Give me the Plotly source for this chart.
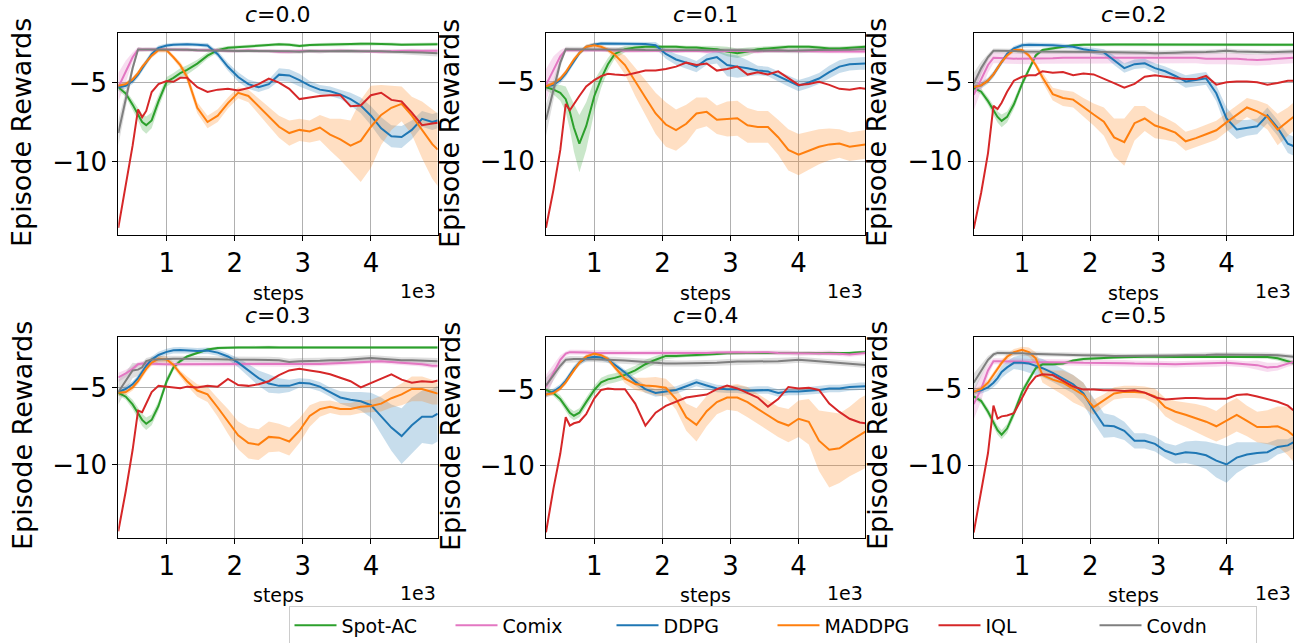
import plotly.graph_objects as go

# x positions, in units of 1e3 steps
steps = [0.29, 0.4, 0.5, 0.58, 0.64, 0.7, 0.78, 0.88, 1.0, 1.1, 1.2, 1.3, 1.45, 1.6, 1.75, 1.9,
         2.05, 2.2, 2.35, 2.5, 2.65, 2.8, 2.95, 3.1, 3.25, 3.4, 3.55, 3.7, 3.85, 4.0, 4.15, 4.3,
         4.45, 4.6, 4.75, 4.9, 4.98]

methods = ["Spot-AC", "Comix", "DDPG", "MADDPG", "IQL", "Covdn"]
panel_titles = ["0.0", "0.1", "0.2", "0.3", "0.4", "0.5"]
x_ticks = [1, 2, 3, 4]
y_ticks = [-5, -10]

# ---------------- c = 0.0 ----------------
c00_spot = [-5.3,-5.7,-6.4,-7.0,-7.5,-7.7,-7.4,-6.2, -4.95,-4.7,-4.4,-4.2,-3.8,-3.3,-2.95,-2.8,
            -2.75,-2.7,-2.68,-2.62,-2.58,-2.6,-2.68,-2.62, -2.6,-2.58,-2.6,-2.58,-2.55,-2.55,-2.55,-2.57,
            -2.6,-2.58,-2.58,-2.57,-2.57]
c00_spot_sd = [0.2,0.2,0.3,0.4,0.5,0.55,0.5,0.4, 0.3,0.3,0.3,0.3,0.25,0.2,0.15,0.12,
               0.1,0.1,0.1,0.1,0.1,0.1,0.1,0.1, 0.1,0.1,0.1,0.1,0.1,0.1,0.1,0.1, 0.1,0.1,0.1,0.1,0.1]
c00_comix = [-5.3,-4.3,-3.4,-2.9,-2.9,-2.9,-2.9,-2.9, -2.88,-2.9,-2.92,-2.92,-2.95,-2.95,-2.95,-3.0,
             -3.0,-2.95,-3.0,-3.0,-3.05,-3.05,-3.0,-3.0, -3.02,-3.0,-2.98,-3.0,-2.98,-3.0,-3.05,-3.02,
             -2.98,-2.98,-3.0,-3.0,-2.98]
c00_comix_sd = [0.9,0.7,0.3,0.15,0.12,0.12,0.12,0.12, 0.12,0.12,0.12,0.12,0.12,0.12,0.12,0.12,
                0.12,0.12,0.12,0.12,0.12,0.12,0.12,0.12, 0.12,0.12,0.12,0.12,0.12,0.12,0.12,0.12, 0.12,0.12,0.12,0.12,0.12]
c00_ddpg = [-5.3,-5.2,-4.9,-4.5,-4.1,-3.7,-3.2,-2.8, -2.65,-2.6,-2.58,-2.58,-2.6,-2.65,-3.2,-4.0,
            -4.65,-5.1,-5.3,-5.1,-4.5,-4.55,-4.85,-5.2, -5.45,-5.55,-5.75,-6.05,-6.45,-7.1,-7.9,-8.4,
            -8.45,-8.0,-7.3,-7.5,-7.4]
c00_ddpg_sd = [0.2,0.2,0.2,0.2,0.2,0.2,0.2,0.15, 0.12,0.12,0.12,0.12,0.12,0.15,0.2,0.25,
               0.3,0.3,0.3,0.3,0.4,0.4,0.4,0.3, 0.3,0.3,0.3,0.4,0.5,0.6,0.7,0.7, 0.7,0.6,0.5,0.5,0.5]
c00_maddpg = [-5.2,-5.1,-4.8,-4.4,-4.0,-3.7,-3.3,-2.95, -2.95,-3.4,-3.9,-4.65,-6.6,-7.5,-7.1,-6.3,
              -5.65,-5.85,-6.5,-7.15,-7.8,-8.2,-8.0,-8.1, -7.85,-8.3,-8.6,-9.0,-8.7,-7.8,-7.05,-6.6,
              -6.35,-7.1,-8.0,-8.9,-9.25]
c00_maddpg_sd = [0.15,0.15,0.15,0.15,0.15,0.15,0.15,0.15, 0.15,0.15,0.2,0.3,0.35,0.4,0.4,0.35,
                 0.35,0.4,0.5,0.6,0.7,0.8,0.7,0.7, 0.8,1.0,1.3,1.6,2.6,2.6,1.9,1.4, 1.1,1.2,1.8,2.2,2.3]
c00_iql = [-14.2,-11.5,-9.0,-6.7,-7.2,-6.8,-5.6,-5.1, -4.9,-4.95,-4.7,-4.7,-5.3,-5.6,-5.45,-5.4,
           -5.5,-5.35,-5.1,-4.75,-5.0,-5.4,-6.05,-5.95, -5.85,-5.8,-5.8,-6.5,-6.45,-5.8,-5.65,-6.1,
           -6.2,-6.9,-7.7,-7.6,-7.55]
c00_covdn = [-8.2,-6.0,-4.1,-2.9,-2.92,-2.9,-2.9,-2.9, -2.9,-2.9,-2.92,-2.92,-2.95,-2.95,-2.95,-2.98,
             -3.0,-3.0,-3.0,-3.0,-3.02,-3.02,-3.05,-3.0, -3.02,-3.0,-3.0,-3.0,-3.02,-3.0,-3.02,-3.05,
             -3.05,-3.08,-3.1,-3.12,-3.15]
c00_covdn_sd = [0.8,0.5,0.3,0.15,0.12,0.12,0.12,0.12, 0.12,0.12,0.12,0.12,0.12,0.12,0.12,0.12,
                0.12,0.12,0.12,0.12,0.12,0.12,0.12,0.12, 0.12,0.12,0.12,0.12,0.12,0.12,0.12,0.12, 0.15,0.15,0.2,0.2,0.2]

# ---------------- c = 0.1 ----------------
c01_spot = [-5.35,-5.5,-5.7,-6.1,-6.9,-7.9,-8.9,-7.8, -5.9,-4.8,-3.9,-3.25,-2.95,-2.85,-2.8,-2.8,
            -2.8,-2.8,-2.85,-2.85,-2.9,-2.95,-3.1,-3.2, -3.1,-2.95,-2.9,-2.85,-2.8,-2.8,-2.8,-2.85,
            -2.9,-2.9,-2.85,-2.8,-2.8]
c01_spot_sd = [0.2,0.3,0.5,0.8,1.1,1.5,1.8,1.5, 1.0,0.6,0.4,0.3,0.2,0.12,0.12,0.12,
               0.12,0.12,0.12,0.12,0.15,0.2,0.3,0.3, 0.25,0.15,0.12,0.12,0.12,0.12,0.12,0.12, 0.12,0.12,0.12,0.12,0.12]
c01_comix = [-5.2,-4.2,-3.4,-3.0,-3.0,-3.0,-3.02,-3.02, -3.0,-3.0,-3.02,-3.02,-3.05,-3.05,-3.05,-3.02,
             -3.05,-3.08,-3.05,-3.05,-3.1,-3.08,-3.05,-3.05, -3.08,-3.1,-3.05,-3.05,-3.08,-3.05,-3.05,-3.08,
             -3.1,-3.08,-3.1,-3.1,-3.1]
c01_comix_sd = [1.0,0.8,0.4,0.15,0.12,0.12,0.12,0.12, 0.12,0.12,0.12,0.12,0.12,0.12,0.12,0.12,
                0.12,0.12,0.12,0.12,0.12,0.12,0.12,0.12, 0.12,0.12,0.12,0.12,0.12,0.12,0.12,0.12, 0.12,0.12,0.12,0.12,0.12]
c01_ddpg = [-5.3,-5.2,-4.9,-4.5,-4.1,-3.7,-3.2,-2.8, -2.65,-2.6,-2.6,-2.62,-2.62,-2.62,-2.62,-2.7,
            -3.25,-3.6,-3.8,-4.05,-3.6,-3.45,-3.95,-4.05, -4.15,-4.3,-4.35,-4.65,-4.95,-5.25,-5.05,-4.8,
            -4.4,-4.05,-3.9,-3.85,-3.85]
c01_ddpg_sd = [0.2,0.2,0.2,0.2,0.2,0.2,0.15,0.12, 0.12,0.12,0.12,0.12,0.12,0.12,0.15,0.2,
               0.3,0.35,0.35,0.35,0.35,0.4,0.7,0.7, 0.5,0.3,0.3,0.3,0.35,0.35,0.35,0.35, 0.4,0.4,0.4,0.4,0.4]
c01_maddpg = [-5.3,-5.1,-4.8,-4.4,-4.0,-3.6,-3.2,-2.8, -2.7,-2.8,-3.0,-3.3,-3.95,-5.0,-6.0,-7.0,
              -7.7,-8.05,-7.65,-7.0,-6.9,-7.4,-7.35,-7.3, -7.75,-7.85,-7.85,-8.5,-9.3,-9.6,-9.35,-9.1,
              -8.95,-8.9,-9.1,-9.0,-8.95]
c01_maddpg_sd = [0.15,0.15,0.15,0.15,0.15,0.15,0.15,0.15, 0.15,0.15,0.15,0.3,0.6,0.9,1.1,1.3,
                 1.4,1.3,1.2,1.0,0.9,0.9,1.1,1.1, 1.1,1.0,1.0,1.1,1.3,1.3,1.2,1.1, 1.0,0.9,0.9,0.9,0.9]
c01_iql = [-14.2,-11.8,-9.3,-6.4,-6.8,-6.4,-5.9,-5.3, -4.9,-4.65,-4.5,-4.55,-4.6,-4.45,-4.3,-4.3,
           -4.2,-4.05,-3.8,-3.95,-3.85,-4.3,-4.2,-4.05, -4.55,-4.4,-4.55,-4.35,-4.75,-5.2,-5.15,-5.0,
           -5.2,-5.45,-5.5,-5.4,-5.45]
c01_covdn = [-7.4,-5.5,-3.8,-2.95,-2.95,-2.95,-2.95,-2.95, -2.95,-2.95,-2.98,-2.98,-2.98,-2.98,-3.0,-3.0,
             -3.0,-3.02,-3.0,-3.0,-3.02,-3.0,-3.0,-3.02, -3.02,-3.05,-3.02,-3.02,-3.05,-3.05,-3.02,-3.0,
             -3.0,-2.98,-2.98,-2.95,-2.95]
c01_covdn_sd = [1.0,0.6,0.3,0.15,0.15,0.15,0.15,0.15, 0.15,0.15,0.15,0.15,0.15,0.15,0.15,0.15,
                0.15,0.15,0.15,0.15,0.15,0.15,0.15,0.15, 0.15,0.15,0.15,0.15,0.15,0.15,0.15,0.15, 0.15,0.15,0.15,0.15,0.15]

# ---------------- c = 0.2 ----------------
c02_spot = [-5.35,-5.6,-6.2,-6.8,-7.2,-7.45,-7.2,-6.4, -5.1,-4.2,-3.3,-2.95,-2.85,-2.75,-2.65,-2.62,
            -2.6,-2.6,-2.6,-2.6,-2.6,-2.6,-2.62,-2.6, -2.6,-2.6,-2.6,-2.6,-2.6,-2.6,-2.6,-2.62,
            -2.62,-2.62,-2.62,-2.62,-2.62]
c02_spot_sd = [0.15,0.2,0.25,0.3,0.35,0.4,0.35,0.3, 0.25,0.2,0.15,0.1,0.1,0.1,0.1,0.1,
               0.1,0.1,0.1,0.1,0.1,0.1,0.1,0.1, 0.1,0.1,0.1,0.1,0.1,0.1,0.1,0.1, 0.1,0.1,0.1,0.1,0.1]
c02_comix = [-5.8,-4.8,-3.9,-3.45,-3.45,-3.45,-3.48,-3.5, -3.5,-3.5,-3.5,-3.48,-3.48,-3.45,-3.45,-3.45,
             -3.45,-3.45,-3.48,-3.45,-3.45,-3.45,-3.45,-3.48, -3.48,-3.45,-3.45,-3.5,-3.5,-3.5,-3.5,-3.55,
             -3.58,-3.55,-3.5,-3.48,-3.45]
c02_comix_sd = [1.0,0.8,0.5,0.35,0.35,0.35,0.35,0.35, 0.35,0.35,0.35,0.35,0.35,0.35,0.35,0.35,
                0.35,0.35,0.35,0.35,0.35,0.35,0.35,0.35, 0.35,0.35,0.35,0.35,0.35,0.35,0.35,0.35, 0.35,0.35,0.35,0.35,0.35]
c02_ddpg = [-5.3,-5.2,-4.9,-4.5,-4.1,-3.7,-3.2,-2.85, -2.65,-2.62,-2.62,-2.62,-2.65,-2.7,-2.75,-2.9,
            -3.0,-3.1,-3.6,-4.1,-3.85,-3.8,-4.1,-4.3, -4.6,-4.95,-4.85,-4.75,-5.7,-7.3,-8.0,-7.9,
            -7.8,-7.1,-7.9,-8.9,-9.05]
c02_ddpg_sd = [0.2,0.2,0.2,0.2,0.2,0.2,0.15,0.15, 0.15,0.15,0.15,0.15,0.15,0.15,0.15,0.15,
               0.2,0.2,0.3,0.3,0.3,0.3,0.3,0.3, 0.35,0.4,0.4,0.4,0.5,0.7,0.6,0.5, 0.5,0.5,0.5,0.6,0.6]
c02_maddpg = [-5.3,-5.2,-4.9,-4.5,-4.1,-3.7,-3.3,-2.95, -2.95,-3.3,-3.9,-4.7,-5.75,-6.0,-6.1,-6.6,
              -7.05,-7.5,-8.5,-8.8,-7.6,-7.3,-7.75,-7.95, -8.2,-8.75,-8.55,-8.3,-8.05,-7.55,-7.05,-6.6,
              -6.85,-7.2,-8.0,-7.5,-7.2]
c02_maddpg_sd = [0.15,0.15,0.15,0.15,0.15,0.15,0.15,0.15, 0.15,0.15,0.15,0.3,0.4,0.5,0.5,0.6,
                 0.7,0.9,1.2,1.5,1.1,0.8,0.8,0.7, 0.6,0.6,0.6,0.6,0.6,0.6,0.6,0.6, 0.7,0.8,1.0,0.9,0.9]
c02_iql = [-14.3,-12.0,-9.5,-6.5,-6.7,-6.3,-5.6,-4.9, -4.65,-4.55,-4.55,-4.3,-4.4,-4.35,-4.55,-4.45,
           -4.5,-4.75,-5.05,-5.35,-5.1,-4.65,-4.55,-4.65, -4.75,-4.8,-4.8,-4.6,-5.15,-5.0,-4.95,-4.95,
           -5.0,-5.15,-5.05,-4.9,-4.9]
c02_covdn = [-5.1,-4.1,-3.4,-3.0,-3.0,-3.0,-3.02,-3.02, -3.05,-3.05,-3.05,-3.05,-3.05,-3.08,-3.05,-3.05,
             -3.05,-3.08,-3.1,-3.1,-3.12,-3.12,-3.15,-3.15, -3.12,-3.1,-3.1,-3.08,-3.05,-3.0,-3.05,-3.08,
             -3.1,-3.1,-3.08,-3.05,-3.05]
c02_covdn_sd = [0.7,0.4,0.2,0.15,0.15,0.15,0.15,0.15, 0.15,0.15,0.15,0.15,0.15,0.15,0.15,0.15,
                0.15,0.15,0.15,0.15,0.15,0.15,0.15,0.15, 0.15,0.15,0.15,0.15,0.15,0.15,0.15,0.15, 0.15,0.15,0.15,0.15,0.15]

# ---------------- c = 0.3 ----------------
c03_spot = [-5.35,-5.6,-6.1,-6.7,-7.1,-7.35,-7.1,-6.2, -4.6,-3.7,-3.3,-3.0,-2.75,-2.55,-2.45,-2.42,
            -2.42,-2.42,-2.4,-2.4,-2.42,-2.42,-2.45,-2.45, -2.45,-2.45,-2.42,-2.42,-2.42,-2.42,-2.42,-2.42,
            -2.42,-2.42,-2.42,-2.42,-2.42]
c03_spot_sd = [0.15,0.2,0.3,0.35,0.4,0.4,0.35,0.3, 0.25,0.2,0.15,0.1,0.1,0.1,0.1,0.1,
               0.1,0.1,0.1,0.1,0.1,0.1,0.1,0.1, 0.1,0.1,0.1,0.1,0.1,0.1,0.1,0.1, 0.1,0.1,0.1,0.1,0.1]
c03_comix = [-4.35,-4.1,-3.8,-3.5,-3.45,-3.45,-3.45,-3.48, -3.5,-3.5,-3.5,-3.5,-3.5,-3.5,-3.48,-3.48,
             -3.5,-3.5,-3.5,-3.5,-3.5,-3.52,-3.52,-3.5, -3.48,-3.45,-3.42,-3.4,-3.35,-3.3,-3.3,-3.35,
             -3.38,-3.45,-3.5,-3.6,-3.6]
c03_comix_sd = [0.3,0.25,0.2,0.15,0.15,0.15,0.15,0.15, 0.15,0.15,0.15,0.15,0.15,0.15,0.15,0.15,
                0.15,0.15,0.15,0.15,0.15,0.15,0.15,0.15, 0.15,0.15,0.15,0.15,0.15,0.15,0.15,0.15, 0.15,0.15,0.15,0.15,0.15]
c03_ddpg = [-5.3,-5.1,-4.8,-4.4,-4.0,-3.6,-3.2,-2.9, -2.7,-2.6,-2.58,-2.6,-2.65,-2.62,-2.75,-3.0,
            -3.4,-3.9,-4.4,-4.75,-4.9,-4.9,-4.7,-4.75, -4.95,-5.3,-5.65,-5.8,-5.9,-6.15,-6.85,-7.6,
            -8.15,-7.45,-6.9,-6.9,-6.7]
c03_ddpg_sd = [0.2,0.2,0.2,0.2,0.2,0.2,0.2,0.2, 0.2,0.2,0.2,0.2,0.2,0.2,0.2,0.2,
               0.3,0.4,0.5,0.6,0.5,0.4,0.3,0.3, 0.3,0.3,0.4,0.5,0.6,0.8,1.2,1.5, 1.8,1.8,1.7,1.8,1.8]
c03_maddpg = [-5.35,-5.3,-5.0,-4.6,-4.2,-3.8,-3.4,-3.15, -3.2,-3.55,-4.1,-4.6,-5.2,-5.45,-6.3,-7.2,
              -8.1,-8.6,-8.7,-8.2,-8.25,-8.5,-7.8,-6.85, -6.4,-6.25,-6.4,-6.4,-6.25,-6.2,-6.05,-5.7,
              -5.45,-5.1,-5.1,-5.3,-5.4]
c03_maddpg_sd = [0.2,0.2,0.2,0.2,0.2,0.2,0.2,0.2, 0.2,0.2,0.2,0.3,0.4,0.5,0.6,0.8,
                 0.9,1.0,1.0,1.0,0.9,0.9,0.8,0.7, 0.5,0.4,0.4,0.4,0.4,0.4,0.5,0.6, 0.7,0.8,0.8,0.8,0.7]
c03_iql = [-14.3,-11.7,-9.05,-6.5,-6.6,-6.0,-5.3,-4.9, -4.95,-5.0,-5.05,-4.95,-5.0,-4.9,-4.95,-4.45,
           -4.85,-4.9,-4.8,-4.6,-4.2,-3.9,-3.8,-3.9, -4.0,-4.15,-4.35,-4.6,-5.0,-4.7,-4.4,-4.15,
           -4.5,-4.7,-4.6,-4.65,-4.55]
c03_covdn = [-5.3,-4.6,-3.9,-3.85,-3.7,-3.3,-3.2,-3.2, -3.15,-3.15,-3.15,-3.15,-3.15,-3.15,-3.18,-3.2,
             -3.2,-3.2,-3.2,-3.22,-3.25,-3.35,-3.3,-3.3, -3.28,-3.25,-3.25,-3.2,-3.15,-3.1,-3.15,-3.2,
             -3.25,-3.25,-3.28,-3.3,-3.3]
c03_covdn_sd = [0.8,0.6,0.5,0.4,0.3,0.2,0.2,0.2, 0.2,0.2,0.2,0.2,0.2,0.2,0.2,0.2,
                0.2,0.2,0.2,0.2,0.2,0.2,0.2,0.2, 0.2,0.2,0.2,0.2,0.2,0.2,0.2,0.2, 0.2,0.2,0.2,0.2,0.2]

# ---------------- c = 0.4 ----------------
c04_spot = [-5.0,-5.2,-5.6,-6.1,-6.5,-6.7,-6.5,-5.8, -5.0,-4.5,-4.3,-4.2,-4.0,-3.7,-3.3,-3.0,
            -2.75,-2.75,-2.72,-2.72,-2.68,-2.62,-2.58,-2.55, -2.55,-2.55,-2.55,-2.55,-2.55,-2.55,-2.55,-2.6,
            -2.55,-2.6,-2.55,-2.5,-2.5]
c04_spot_sd = [0.15,0.2,0.25,0.3,0.3,0.3,0.3,0.3, 0.3,0.3,0.3,0.3,0.3,0.3,0.3,0.25,
               0.2,0.15,0.1,0.1,0.1,0.1,0.1,0.1, 0.1,0.1,0.1,0.1,0.1,0.1,0.1,0.1, 0.1,0.1,0.1,0.1,0.1]
c04_comix = [-4.8,-3.8,-3.0,-2.6,-2.5,-2.5,-2.5,-2.52, -2.55,-2.55,-2.55,-2.55,-2.55,-2.58,-2.55,-2.55,
             -2.55,-2.55,-2.55,-2.55,-2.55,-2.52,-2.5,-2.5, -2.52,-2.5,-2.5,-2.55,-2.55,-2.6,-2.58,-2.55,
             -2.55,-2.6,-2.65,-2.58,-2.55]
c04_comix_sd = [0.8,0.5,0.3,0.15,0.15,0.15,0.15,0.15, 0.15,0.15,0.15,0.15,0.15,0.15,0.15,0.15,
                0.15,0.15,0.15,0.15,0.15,0.15,0.15,0.15, 0.15,0.15,0.15,0.15,0.15,0.15,0.15,0.15, 0.15,0.15,0.15,0.15,0.15]
c04_ddpg = [-5.3,-5.1,-4.8,-4.4,-4.0,-3.6,-3.2,-2.9, -2.8,-2.85,-3.0,-3.35,-3.85,-4.45,-4.95,-5.2,
            -5.1,-5.0,-4.75,-4.5,-4.7,-4.9,-4.95,-4.95, -5.05,-5.0,-5.0,-5.2,-5.1,-5.1,-5.05,-5.0,
            -4.9,-4.9,-4.8,-4.75,-4.75]
c04_ddpg_sd = [0.2,0.2,0.2,0.2,0.2,0.2,0.2,0.2, 0.2,0.2,0.2,0.2,0.2,0.25,0.25,0.25,
               0.25,0.25,0.25,0.25,0.25,0.25,0.25,0.25, 0.25,0.25,0.25,0.25,0.25,0.25,0.25,0.25, 0.25,0.25,0.25,0.25,0.25]
c04_maddpg = [-5.3,-5.2,-4.9,-4.5,-4.1,-3.7,-3.2,-2.8, -2.6,-2.7,-2.95,-3.5,-4.25,-4.6,-4.7,-4.75,
              -4.85,-5.6,-6.8,-7.3,-6.4,-5.8,-5.5,-5.5, -5.8,-6.25,-6.65,-7.1,-7.35,-6.9,-7.1,-8.35,
              -8.95,-8.85,-8.4,-7.95,-7.75]
c04_maddpg_sd = [0.15,0.15,0.15,0.15,0.15,0.15,0.15,0.15, 0.15,0.15,0.15,0.15,0.3,0.4,0.5,0.6,
                 0.6,0.7,0.9,1.1,1.0,0.8,0.8,0.9, 1.0,1.0,1.0,1.0,1.1,1.2,1.5,2.0, 2.5,2.3,2.3,2.4,2.4]
c04_iql = [-14.4,-11.5,-9.2,-6.8,-7.35,-7.2,-7.1,-6.6, -5.55,-5.0,-4.9,-4.95,-4.95,-5.9,-7.35,-6.5,
           -6.05,-5.8,-5.5,-5.4,-5.3,-4.95,-4.7,-4.9, -5.2,-5.5,-6.1,-5.6,-4.8,-4.9,-4.85,-5.0,
           -5.9,-6.45,-6.9,-7.15,-7.2]
c04_covdn = [-4.7,-4.0,-3.4,-3.0,-2.95,-2.95,-2.95,-2.95, -2.95,-2.98,-3.0,-3.0,-3.05,-3.1,-3.15,-3.2,
             -3.25,-3.25,-3.25,-3.25,-3.22,-3.2,-3.15,-3.12, -3.12,-3.12,-3.1,-3.1,-3.05,-3.0,-3.05,-3.1,
             -3.15,-3.2,-3.25,-3.3,-3.35]
c04_covdn_sd = [0.5,0.35,0.25,0.2,0.2,0.2,0.2,0.2, 0.2,0.2,0.2,0.2,0.2,0.2,0.2,0.2,
                0.2,0.2,0.2,0.2,0.2,0.2,0.2,0.2, 0.2,0.2,0.2,0.2,0.2,0.2,0.2,0.2, 0.2,0.2,0.2,0.2,0.2]

# ---------------- c = 0.5 ----------------
c05_spot = [-5.5,-5.8,-6.5,-7.2,-7.7,-8.0,-7.6,-6.6, -5.2,-4.4,-3.65,-3.4,-3.4,-3.35,-3.15,-3.05,
            -3.0,-2.98,-2.95,-2.92,-2.92,-2.9,-2.9,-2.92, -2.92,-2.9,-2.9,-2.88,-2.88,-2.88,-2.88,-2.9,
            -2.9,-2.92,-3.0,-3.2,-3.3]
c05_spot_sd = [0.15,0.2,0.25,0.3,0.3,0.3,0.3,0.3, 0.25,0.2,0.15,0.1,0.1,0.1,0.1,0.1,
               0.1,0.1,0.1,0.1,0.1,0.1,0.1,0.1, 0.1,0.1,0.1,0.1,0.1,0.1,0.1,0.1, 0.1,0.12,0.15,0.15,0.15]
c05_comix = [-6.0,-5.0,-3.8,-3.2,-3.2,-3.2,-3.2,-3.22, -3.22,-3.25,-3.25,-3.25,-3.25,-3.28,-3.28,-3.3,
             -3.3,-3.3,-3.32,-3.32,-3.35,-3.35,-3.35,-3.38, -3.4,-3.38,-3.35,-3.35,-3.35,-3.3,-3.35,-3.4,
             -3.45,-3.6,-3.55,-3.35,-3.25]
c05_comix_sd = [1.0,0.8,0.4,0.2,0.2,0.2,0.2,0.2, 0.2,0.2,0.2,0.2,0.2,0.2,0.2,0.2,
                0.2,0.2,0.2,0.2,0.2,0.2,0.2,0.2, 0.2,0.2,0.2,0.2,0.2,0.2,0.2,0.2, 0.3,0.3,0.25,0.2,0.2]
c05_ddpg = [-5.2,-5.1,-4.9,-4.6,-4.3,-3.9,-3.6,-3.3, -3.3,-3.35,-3.5,-3.65,-3.95,-4.3,-4.7,-5.3,
            -6.4,-7.4,-7.45,-7.75,-8.4,-8.4,-8.6,-9.05, -9.3,-9.15,-9.2,-9.35,-9.7,-9.95,-9.5,-9.3,
            -9.2,-9.15,-8.8,-8.7,-8.5]
c05_ddpg_sd = [0.2,0.2,0.25,0.3,0.35,0.4,0.4,0.4, 0.5,0.6,0.6,0.6,0.6,0.6,0.6,0.7,
               0.8,0.8,0.7,0.6,0.5,0.5,0.5,0.5, 0.6,0.7,0.8,0.9,1.1,1.2,1.0,0.8, 0.7,0.6,0.5,0.4,0.4]
c05_maddpg = [-5.2,-5.0,-4.6,-4.1,-3.7,-3.3,-2.9,-2.6, -2.45,-2.6,-3.0,-4.1,-4.4,-4.6,-5.0,-5.4,
              -6.2,-5.75,-5.3,-5.2,-5.2,-5.25,-5.5,-6.2, -6.5,-6.7,-6.9,-7.15,-7.45,-7.05,-6.7,-7.1,
              -7.5,-7.5,-7.45,-7.75,-8.05]
c05_maddpg_sd = [0.2,0.2,0.2,0.2,0.2,0.2,0.2,0.2, 0.2,0.3,0.4,0.5,0.6,0.8,0.9,0.8,
                 0.5,0.4,0.4,0.4,0.4,0.4,0.5,0.6, 0.7,0.8,0.9,1.0,1.0,1.1,1.1,1.0, 1.0,1.1,1.3,1.6,1.7]
c05_iql = [-14.4,-11.6,-9.2,-6.1,-6.95,-6.8,-6.75,-6.6, -5.6,-4.75,-4.2,-4.05,-4.1,-4.45,-4.85,-5.05,
           -5.05,-5.1,-5.1,-5.15,-5.1,-5.25,-5.55,-5.7, -5.65,-5.6,-5.6,-5.65,-5.65,-5.65,-5.4,-5.35,
           -5.5,-5.65,-5.85,-6.1,-6.4]
c05_covdn = [-4.6,-3.8,-3.1,-2.75,-2.65,-2.65,-2.65,-2.65, -2.68,-2.7,-2.72,-2.72,-2.75,-2.75,-2.78,-2.8,
             -2.8,-2.82,-2.85,-2.85,-2.85,-2.85,-2.85,-2.85, -2.82,-2.8,-2.8,-2.78,-2.75,-2.75,-2.75,-2.75,
             -2.75,-2.78,-2.8,-2.85,-2.9]
c05_covdn_sd = [0.6,0.4,0.25,0.15,0.15,0.15,0.15,0.15, 0.15,0.15,0.15,0.15,0.15,0.15,0.15,0.15,
                0.15,0.15,0.15,0.15,0.15,0.15,0.15,0.15, 0.15,0.15,0.15,0.15,0.15,0.15,0.15,0.15, 0.15,0.15,0.15,0.15,0.15]

panels = [
    [(c00_spot, c00_spot_sd), (c00_comix, c00_comix_sd), (c00_ddpg, c00_ddpg_sd),
     (c00_maddpg, c00_maddpg_sd), (c00_iql, None), (c00_covdn, c00_covdn_sd)],
    [(c01_spot, c01_spot_sd), (c01_comix, c01_comix_sd), (c01_ddpg, c01_ddpg_sd),
     (c01_maddpg, c01_maddpg_sd), (c01_iql, None), (c01_covdn, c01_covdn_sd)],
    [(c02_spot, c02_spot_sd), (c02_comix, c02_comix_sd), (c02_ddpg, c02_ddpg_sd),
     (c02_maddpg, c02_maddpg_sd), (c02_iql, None), (c02_covdn, c02_covdn_sd)],
    [(c03_spot, c03_spot_sd), (c03_comix, c03_comix_sd), (c03_ddpg, c03_ddpg_sd),
     (c03_maddpg, c03_maddpg_sd), (c03_iql, None), (c03_covdn, c03_covdn_sd)],
    [(c04_spot, c04_spot_sd), (c04_comix, c04_comix_sd), (c04_ddpg, c04_ddpg_sd),
     (c04_maddpg, c04_maddpg_sd), (c04_iql, None), (c04_covdn, c04_covdn_sd)],
    [(c05_spot, c05_spot_sd), (c05_comix, c05_comix_sd), (c05_ddpg, c05_ddpg_sd),
     (c05_maddpg, c05_maddpg_sd), (c05_iql, None), (c05_covdn, c05_covdn_sd)],
]

# ---------------- styling ----------------
colors = ["#2ca02c", "#e377c2", "#1f77b4", "#ff7f0e", "#d62728", "#7f7f7f"]
band_rgba = ["rgba(44,160,44,0.25)", "rgba(227,119,194,0.25)", "rgba(31,119,180,0.25)",
             "rgba(255,127,14,0.25)", "rgba(214,39,40,0.25)", "rgba(127,127,127,0.25)"]
FONT = "DejaVu Sans"
W, H = 1307, 643

col_px = [(118.3, 437.7), (546.0, 865.3), (973.7, 1293.3)]
row_px = [(33.3, 235.0), (336.7, 537.7)]
y_ranges = [[-14.66, -1.88], [-14.66, -1.95], [-14.7, -1.89],
            [-14.72, -1.72], [-14.76, -1.48], [-14.74, -1.59]]
x_range = [0.29, 4.98]

fig = go.Figure()

# bands first (below all lines)
for p, series in enumerate(panels):
    ax = "" if p == 0 else str(p + 1)
    for k, (mean, sd) in enumerate(series):
        if sd is None:
            continue
        upper = [m + s for m, s in zip(mean, sd)]
        lower = [m - s for m, s in zip(mean, sd)]
        fig.add_trace(go.Scatter(
            x=steps + steps[::-1], y=upper + lower[::-1],
            fill="toself", fillcolor=band_rgba[k], line=dict(width=0),
            mode="lines", hoverinfo="skip", showlegend=False,
            xaxis="x" + ax, yaxis="y" + ax))

for p, series in enumerate(panels):
    ax = "" if p == 0 else str(p + 1)
    for k, (mean, sd) in enumerate(series):
        fig.add_trace(go.Scatter(
            x=steps, y=mean, mode="lines", name=methods[k],
            line=dict(color=colors[k], width=2),
            legendgroup=methods[k], showlegend=(p == 0),
            xaxis="x" + ax, yaxis="y" + ax))

layout = dict(
    width=W, height=H, margin=dict(l=0, r=0, t=0, b=0, autoexpand=False),
    paper_bgcolor="white", plot_bgcolor="white",
    font=dict(family=FONT, color="black"),
    showlegend=True,
    legend=dict(orientation="h", x=772.5 / W, xanchor="center", y=-2.5 / H, yanchor="bottom",
                font=dict(size=19, family=FONT), bordercolor="#cccccc", borderwidth=1,
                bgcolor="white", itemwidth=42, entrywidth=104, entrywidthmode="pixels",
                traceorder="normal"),
)

annotations = []
for p in range(6):
    r, c = divmod(p, 3)
    x0, x1 = col_px[c]
    y0, y1 = row_px[r]
    ax = "" if p == 0 else str(p + 1)
    common = dict(showline=True, mirror=True, linecolor="black", linewidth=1.2,
                  ticks="outside", ticklen=5, tickwidth=1, tickcolor="black",
                  showgrid=True, gridcolor="#b0b0b0", gridwidth=1, zeroline=False,
                  tickfont=dict(size=26, family=FONT))
    layout["xaxis" + ax] = dict(domain=[x0 / W, x1 / W], range=x_range, tickvals=x_ticks,
                                anchor="y" + ax, **common)
    layout["yaxis" + ax] = dict(domain=[1 - y1 / H, 1 - y0 / H], range=y_ranges[p],
                                tickvals=y_ticks, anchor="x" + ax, **common)
    cx = (x0 + x1) / 2 / W
    title_y = [15, 316][r]
    annotations.append(dict(text="<i>c</i>=" + panel_titles[p], x=cx, y=1 - title_y / H,
                            xref="paper", yref="paper", showarrow=False,
                            font=dict(size=22, family=FONT), xanchor="center", yanchor="middle"))
    ylab_x = [22, 450, 877][c]
    ylab_y = [133, 436][r]
    annotations.append(dict(text="Episode Rewards", x=ylab_x / W, y=1 - ylab_y / H,
                            xref="paper", yref="paper", showarrow=False, textangle=-90,
                            font=dict(size=27, family=FONT), xanchor="center", yanchor="middle"))
    steps_y = [293, 595][r]
    annotations.append(dict(text="steps", x=cx, y=1 - steps_y / H, xref="paper", yref="paper",
                            showarrow=False, font=dict(size=19, family=FONT),
                            xanchor="center", yanchor="middle"))
    e_y = [291, 593][r]
    annotations.append(dict(text="1e3", x=x1 / W, y=1 - e_y / H, xref="paper", yref="paper",
                            showarrow=False, font=dict(size=19, family=FONT),
                            xanchor="right", yanchor="middle"))

layout["annotations"] = annotations
fig.update_layout(**layout)

fig.write_html("out.html", config={"displayModeBar": False},
               post_script="document.body.style.margin='0';")
